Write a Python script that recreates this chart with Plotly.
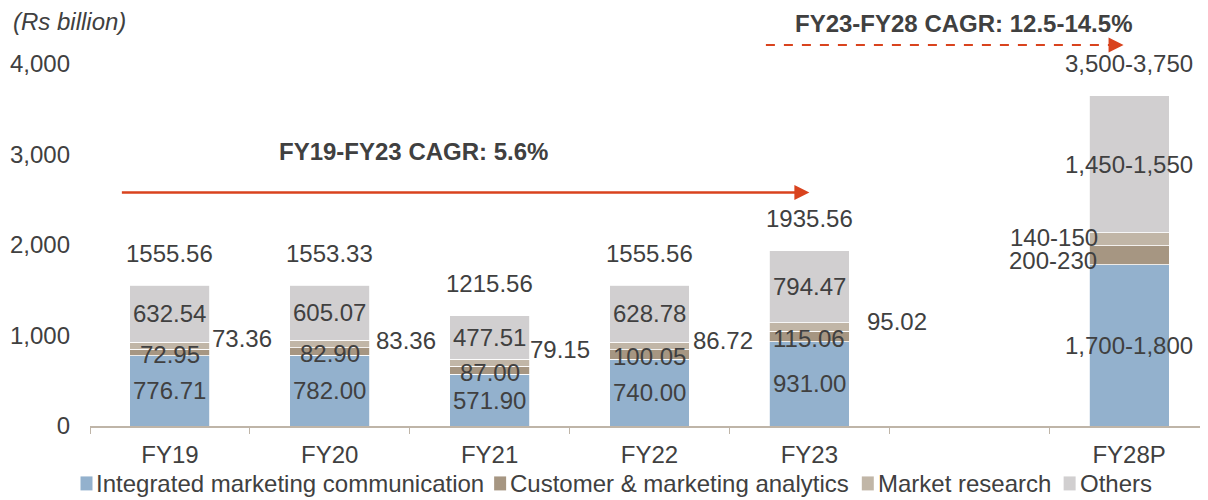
import plotly.graph_objects as go

CATEGORIES = ["FY19", "FY20", "FY21", "FY22", "FY23", " ", "FY28P"]

IMC = [776.71, 782.00, 571.90, 740.00, 931.00, None, 1780]
CMA = [72.95, 82.90, 87.00, 100.05, 115.06, None, 213]
MR = [73.36, 83.36, 79.15, 86.72, 95.02, None, 141]
OTHERS = [632.54, 605.07, 477.51, 628.78, 794.47, None, 1516]

IMC_LABELS = ["776.71", "782.00", "571.90", "740.00", "931.00", None, "1,700-1,800"]
CMA_LABELS = ["72.95", "82.90", "87.00", "100.05", "115.06", None, "200-230"]
MR_LABELS = ["73.36", "83.36", "79.15", "86.72", "95.02", None, "140-150"]
OTHERS_LABELS = ["632.54", "605.07", "477.51", "628.78", "794.47", None, "1,450-1,550"]
TOTAL_LABELS = ["1555.56", "1553.33", "1215.56", "1555.56", "1935.56", None, "3,500-3,750"]

SERIES = [
    ("Integrated marketing communication", IMC, IMC_LABELS, "#93b1cd"),
    ("Customer & marketing analytics", CMA, CMA_LABELS, "#a69682"),
    ("Market research", MR, MR_LABELS, "#c1b6a7"),
    ("Others", OTHERS, OTHERS_LABELS, "#d1cfd0"),
]

# hand-placed offsets (px) of the small market research labels, as in the source
MR_SHIFT = [(0, 4), (4, 0), (-2, 10), (2, 2), (16, 1)]
# left edge (px) of each legend entry, legend drawn by hand for tight spacing
LEGEND_X = [80, 494, 862, 1064]

FONT = "Arial, Liberation Sans, sans-serif"
TEXT = "#404040"
RED = "#d9431e"
FS = 24

# the page body adds an 8px margin; plot area should sit at x 89.5-1209.5, y 64-426.5
PX0, PX1, PY0, PY1 = 89.5, 1209.5, 64, 426.5


def px(x):
    return (x - PX0) / (PX1 - PX0)


def py(y):
    return (PY1 - y) / (PY1 - PY0)


fig = go.Figure()
for name, values, _, color in SERIES:
    fig.add_trace(go.Bar(
        x=CATEGORIES, y=values, name=name,
        marker=dict(color=color, line=dict(color="white", width=0.8)),
        hoverinfo="skip", showlegend=False,
    ))

annotations = []


def label(x, y, text, **kw):
    kw.setdefault("xanchor", "center")
    annotations.append(dict(
        x=x, y=y, xref="x", yref="y", text=text, showarrow=False, yanchor="middle",
        font=dict(family=FONT, size=FS, color=TEXT), **kw,
    ))


def note(x, y, text, **kw):
    kw.setdefault("xanchor", "center")
    annotations.append(dict(
        x=px(x), y=py(y), xref="paper", yref="paper", text=text, showarrow=False,
        yanchor="middle", font=dict(family=FONT, size=FS, color=TEXT), **kw,
    ))


for i, cat in enumerate(CATEGORIES):
    if IMC[i] is None:
        continue
    base = 0
    tops = []
    for name, values, texts, _ in SERIES:
        tops.append((base, base + values[i], texts[i]))
        base += values[i]
    last = cat == "FY28P"
    # IMC and Others centred in their segments
    for k in (0, 3):
        lo, hi, txt = tops[k]
        label(i, (lo + hi) / 2, txt)
    lo, hi, txt = tops[1]
    if last:
        label(i - 0.25, (lo + hi) / 2, txt, xanchor="right", xshift=10, yshift=-5)
    else:
        label(i, (lo + hi) / 2, txt, yshift=-2)
    lo, hi, txt = tops[2]
    if last:
        label(i - 0.25, (lo + hi) / 2, txt, xanchor="right", xshift=11, yshift=2)
    else:
        dx, dy = MR_SHIFT[i]
        label(i + 0.25, hi, txt, xanchor="left", xshift=dx, yshift=dy)
    label(i, base, TOTAL_LABELS[i], yshift=32)

# CAGR arrows and captions
annotations.append(dict(
    x=4, y=2580, xref="x", yref="y", ax=-0.31, ay=2580, axref="x", ayref="y",
    showarrow=True, arrowhead=2, arrowsize=1.2, arrowwidth=2.5, arrowcolor=RED, text=""))
annotations.append(dict(
    x=px(1124), y=py(45), xref="paper", yref="paper", ax=-14, ay=0,
    showarrow=True, arrowhead=2, arrowsize=1.2, arrowwidth=2.5, arrowcolor=RED, text=""))
note(413, 152, "<b>FY19-FY23 CAGR: 5.6%</b>")
note(964, 23, "<b>FY23-FY28 CAGR: 12.5-14.5%</b>")
note(10, 21, "<i>(Rs billion)</i>", xanchor="left")

fig.add_shape(type="line", xref="paper", yref="paper",
              x0=px(766), x1=px(1112), y0=py(45), y1=py(45),
              line=dict(color=RED, width=2, dash="dash"))

# legend
for (name, _, _, color), lx in zip(SERIES, LEGEND_X):
    fig.add_shape(type="rect", xref="paper", yref="paper",
                  x0=px(lx), x1=px(lx + 12), y0=py(491), y1=py(477),
                  fillcolor=color, line=dict(width=0))
    note(lx + 14, 484.5, name, xanchor="left")

fig.update_layout(
    width=1208, height=500,
    barmode="stack", bargap=0.5,
    paper_bgcolor="white", plot_bgcolor="white",
    margin=dict(l=PX0 - 8, r=1208 - (PX1 - 8), t=PY0 - 8, b=500 - (PY1 - 8)),
    font=dict(family=FONT, size=FS, color=TEXT),
    annotations=annotations,
    showlegend=False,
)
fig.update_xaxes(
    type="category", categoryorder="array", categoryarray=CATEGORIES,
    range=[-0.5, 6.5], showline=True, linecolor="#bfb5a8", linewidth=1.5,
    ticks="outside", tickson="boundaries", ticklen=6, tickcolor="#bfb5a8",
    showgrid=False, tickfont=dict(size=FS, color=TEXT), ticklabelstandoff=6,
    automargin=False,
)
fig.update_yaxes(
    range=[0, 4000], dtick=1000, tickformat=",", showgrid=False, zeroline=False,
    showline=False, ticks="", ticklabelstandoff=19, tickfont=dict(size=FS, color=TEXT),
    automargin=False,
)

fig.write_html("out.html")
